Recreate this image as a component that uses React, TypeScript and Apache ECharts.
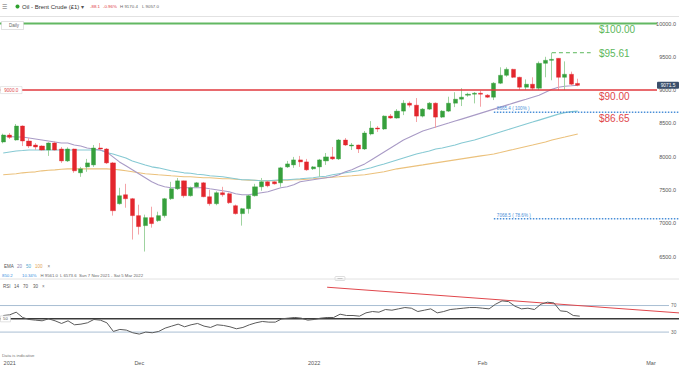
import React, { useEffect, useRef } from "react";
import * as echarts from "echarts";

const FF = "'Liberation Sans', Arial, Helvetica, sans-serif";

// trading days (IG: Sun–Fri sessions)
const dates: string[] = [
  "2021-11-07","2021-11-08","2021-11-09","2021-11-10","2021-11-11","2021-11-12","2021-11-14","2021-11-15","2021-11-16","2021-11-17",
  "2021-11-18","2021-11-19","2021-11-21","2021-11-22","2021-11-23","2021-11-24","2021-11-25","2021-11-26","2021-11-28","2021-11-29",
  "2021-11-30","2021-12-01","2021-12-02","2021-12-03","2021-12-05","2021-12-06","2021-12-07","2021-12-08","2021-12-09","2021-12-10",
  "2021-12-12","2021-12-13","2021-12-14","2021-12-15","2021-12-16","2021-12-17","2021-12-19","2021-12-20","2021-12-21","2021-12-22",
  "2021-12-23","2021-12-24","2021-12-26","2021-12-27","2021-12-28","2021-12-29","2021-12-30","2021-12-31","2022-01-02","2022-01-03",
  "2022-01-04","2022-01-05","2022-01-06","2022-01-07","2022-01-09","2022-01-10","2022-01-11","2022-01-12","2022-01-13","2022-01-14",
  "2022-01-16","2022-01-17","2022-01-18","2022-01-19","2022-01-20","2022-01-21","2022-01-23","2022-01-24","2022-01-25","2022-01-26",
  "2022-01-27","2022-01-28","2022-01-30","2022-01-31","2022-02-01","2022-02-02","2022-02-03","2022-02-04","2022-02-06","2022-02-07",
  "2022-02-08","2022-02-09","2022-02-10","2022-02-11","2022-02-13","2022-02-14","2022-02-15","2022-02-16","2022-02-17","2022-02-18",
];
const futureDates: string[] = [
  "2022-02-19","2022-02-20","2022-02-21","2022-02-22","2022-02-23","2022-02-24","2022-02-25","2022-02-26","2022-02-27","2022-02-28","2022-03-01",
];
const tickLabels: Record<string, string> = {
  "2021-11-08": "2021", "2021-12-01": "Dec", "2022-01-02": "2022", "2022-02-01": "Feb", "2022-03-01": "Mar",
};

const opens = [
  8220,8325,8250,8460,8235,8175,8160,8100,8205,8115, 7936,8115,7757,7846,7876,8130,8115,7906,7293,7428,
  7368,7114,6964,7084,7039,7114,7368,7517,7637,7413, 7547,7607,7398,7293,7458,7443,7263,7144,7218,7413,
  7547,7622,7622,7607,7846,7876,7951,7921,7817,7846, 7936,7996,7966,8250,8160,8175,8115,8340,8430,8415,
  8609,8580,8684,8803,8773,8609,8714,8803,8594,8684, 8803,8863,8923,8938,8953,8923,8893,9103,9222,9312,
  9192,9043,9088,9028,9402,9447,9477,9192,9237,9100,
];
const closes = [
  8325,8290,8460,8235,8160,8145,8100,8205,8100,7936, 8115,7787,7817,7906,8130,8115,7906,7188,7413,7368,
  7114,6949,7084,6994,7114,7368,7517,7637,7413,7532, 7607,7398,7293,7458,7428,7308,7144,7218,7413,7547,
  7622,7562,7592,7832,7891,7951,7921,7802,7846,7951, 7996,7966,8250,8175,8175,8115,8355,8430,8415,8609,
  8580,8684,8803,8773,8609,8714,8803,8594,8684,8803, 8863,8893,8938,8953,8938,8893,9103,9222,9312,9192,
  9043,9088,9028,9402,9447,9462,9192,9237,9088,9071.5,
];
const lows = [
  8200,8265,8240,8160,8130,8100,8090,8011,8090,7906, 7920,7757,7697,7772,7846,8100,7890,7114,7280,7233,
  6755,6830,6575,6934,7020,7084,7350,7500,7383,7400, 7530,7390,7263,7270,7398,7290,7130,6964,7144,7400,
  7488,7540,7580,7547,7830,7832,7846,7787,7800,7697, 7876,7950,7950,8160,8100,8055,8100,8320,8370,8400,
  8570,8570,8624,8740,8520,8590,8700,8430,8580,8670, 8744,8760,8900,8800,8750,8880,8850,9090,9200,9180,
  9000,9000,9000,9000,9192,9147,8998,9000,9070,9057,
];
const highs = [
  8345,8355,8490,8470,8280,8205,8170,8215,8230,8145, 8140,8120,7846,7966,8175,8205,8130,7920,7532,7592,
  7380,7278,7129,7248,7173,7380,7622,7680,7640,7550, 7620,7620,7503,7480,7547,7460,7280,7230,7430,7592,
  7680,7640,7630,7846,7936,7996,8011,7966,7860,7966, 8055,8145,8265,8280,8205,8180,8385,8534,8460,8620,
  8640,8714,8849,8830,8880,8730,8820,8815,8700,8900, 8968,9028,8960,8970,8990,8940,9120,9342,9342,9320,
  9200,9160,9192,9430,9500,9561,9477,9431,9277,9170.4,
];

const ema20 = [
  8310,8302,8295,8295,8280,8265,8250,8235,8220,8205, 8205,8175,8161,8131,8116,8101,8071,7996,7921,7862,
  7802,7742,7682,7622,7577,7547,7532,7532,7532,7532, 7532,7532,7517,7503,7488,7473,7443,7428,7428,7443,
  7458,7473,7503,7532,7547,7577,7622,7637,7652,7667, 7682,7697,7727,7772,7802,7847,7891,7951,8011,8071,
  8131,8190,8250,8295,8340,8385,8415,8445,8475,8504, 8534,8564,8594,8624,8654,8684,8714,8744,8774,8804,
  8834,8863,8893,8923,8968,9013,9043,9058,9065,9073,
];
const ema50 = [
  8056,8071,8086,8093,8101,8101,8101,8101,8101,8101, 8101,8101,8101,8101,8101,8101,8063,8041,8011,7981,
  7936,7906,7876,7847,7832,7810,7787,7772,7757,7750, 7735,7727,7712,7705,7697,7682,7667,7652,7652,7645,
  7637,7637,7645,7652,7652,7660,7667,7675,7682,7697, 7705,7727,7742,7757,7772,7787,7810,7832,7862,7891,
  7921,7951,7981,8011,8041,8063,8086,8116,8131,8153, 8175,8205,8228,8250,8280,8310,8340,8370,8400,8430,
  8460,8490,8519,8549,8579,8609,8639,8661,8676,8684,
];
const ema100 = [
  7727,7735,7742,7757,7765,7772,7787,7795,7802,7810, 7817,7817,7817,7817,7817,7817,7817,7810,7802,7787,
  7772,7757,7742,7735,7727,7720,7712,7705,7697,7697, 7690,7682,7682,7675,7667,7667,7660,7652,7645,7645,
  7637,7637,7637,7645,7645,7652,7652,7660,7667,7675, 7682,7690,7697,7705,7712,7720,7727,7742,7757,7772,
  7795,7817,7832,7847,7862,7876,7891,7906,7921,7936, 7951,7966,7981,7996,8011,8026,8041,8063,8086,8108,
  8131,8153,8175,8198,8220,8250,8273,8295,8318,8340,
];
const rsi14 = [
  55,56,60,52,49,48,47,50,47,43, 47,41,42,44,49,48,44,31,34,33,
  29,27,30,29,31,36,39,42,38,41, 43,39,37,41,40,38,35,37,41,44,
  46,45,45,50,51,52,51,48,49,51, 52,52,57,55,55,54,59,61,60,64,
  63,65,67,66,61,63,65,59,61,64, 65,66,67,67,66,65,72,77,76,69,
  65,66,64,72,75,74,62,61,55,54,
];

// levels
const levelTop = 10000;
const levelRecentHigh = 9561;
const levelSupport = 9000;
const fib100 = 8665.4;
const fib786 = 7068.5;
const lastPrice = 9071.5;
const recentHighIndex = 85;
const fibStartIndex = 76;
// RSI trend line anchors: [index, rsi]
const rsiTrendA: [number, number] = [50, 97.6];
const rsiTrendB: [number, number] = [100, 62];

const GREEN = "#36a03c";
const RED = "#e3262d";
const GREEN_W = "#9fd3a0";
const RED_W = "#f4a3a7";

const cats = [...dates, ...futureDates];

function buildGraphics(chart: any) {
  const P = (g: number, x: number, y: number) => chart.convertToPixel({ gridIndex: g }, [x, y]) as number[];
  const els: any[] = [];
  const txt = (x: number, y: number, text: string, fill: string, size: number, extra: any = {}, z = 20) => ({
    type: "text", x, y, silent: true, z,
    style: { text, fill, fontSize: size, fontFamily: FF, verticalAlign: "middle", align: "left", ...extra },
  });
  const line = (x1: number, y1: number, x2: number, y2: number, stroke: string, lw: number, dash?: number[], z = 5) => ({
    type: "line", silent: true, z,
    shape: { x1, y1, x2, y2 },
    style: { stroke, lineWidth: lw, lineDash: dash || null },
  });

  // chrome
  els.push(line(0, 16.5, 679, 16.5, "#e2e2e2", 1));
  els.push(line(0, 279, 679, 279, "#e2e2e2", 1));
  els.push(txt(1.5, 6.5, "☰", "#666", 5.5));
  els.push({ type: "circle", silent: true, shape: { cx: 17.5, cy: 6.5, r: 2 }, style: { fill: "#2ca02c" } });
  els.push(txt(22, 6.5, "Oil - Brent Crude (£1)", "#333", 6));
  els.push(txt(81, 6.5, "▾", "#555", 5.5));
  els.push(txt(90, 6.5, "-88.1", "#e0393e", 4.4));
  els.push(txt(103, 6.5, "-0.96%", "#e0393e", 4.4));
  els.push(txt(120, 6.5, "H 9170.4", "#666", 4.4));
  els.push(txt(142, 6.5, "L 9057.0", "#666", 4.4));

  // price levels
  const yTop = P(0, 0, levelTop)[1];
  els.push(line(0, yTop, 657, yTop, "#62b862", 2));
  els.push({ type: "rect", silent: true, z: 21, shape: { x: 1.5, y: yTop - 2, width: 22, height: 8 }, style: { fill: "#fff", stroke: "#cfcfcf", lineWidth: 0.6 } });
  els.push(txt(9, yTop + 2, "Daily", "#666", 4.5, {}, 22));
  els.push(txt(599, yTop + 6, "$100.00", "#5cb85c", 10));

  const yHigh = P(0, 0, levelRecentHigh)[1];
  const xHigh0 = P(0, recentHighIndex, levelRecentHigh)[0];
  const xHigh1 = P(0, recentHighIndex + 6, levelRecentHigh)[0];
  els.push(line(xHigh0, yHigh, xHigh1, yHigh, "#5cb85c", 1, [4, 3]));
  els.push(txt(599, yHigh + 0.5, "$95.61", "#5cb85c", 10));

  const ySup = P(0, 0, levelSupport)[1];
  els.push(line(0, ySup, 657, ySup, "#e0393e", 1.5));
  els.push(txt(599, ySup + 6.5, "$90.00", "#e0474c", 10));
  els.push({ type: "rect", silent: true, z: 21, shape: { x: 0.5, y: ySup - 3.5, width: 21.5, height: 7 }, style: { fill: "#fff", stroke: "#d8d8d8", lineWidth: 0.6 } });
  els.push(txt(11.25, ySup, "9000.0", "#e0474c", 4.6, { align: "center" }, 22));

  const yF1 = P(0, 0, fib100)[1];
  const xF = P(0, fibStartIndex, fib100)[0];
  els.push(line(xF, yF1, 679, yF1, "#4a8fd8", 1.5, [1.5, 1.5]));
  els.push(txt(xF + 3, yF1 - 3.5, "8665.4 ( 100% )", "#4a8fd8", 4.6));
  els.push(txt(599, yF1 + 6.5, "$86.65", "#e0474c", 10));

  const yF2 = P(0, 0, fib786)[1];
  els.push(line(xF, yF2, 679, yF2, "#4a8fd8", 1.5, [1.5, 1.5]));
  els.push(txt(xF + 3, yF2 - 3.5, "7068.5 ( 78.6% )", "#4a8fd8", 4.6));

  const yLast = P(0, 0, lastPrice)[1];
  els.push({ type: "rect", silent: true, z: 25, shape: { x: 657, y: yLast - 3.5, width: 22, height: 7, r: 1 }, style: { fill: "#3b4f6b" } });
  els.push(txt(668, yLast, "9071.5", "#fff", 4.8, { align: "center" }, 26));

  // legend rows
  els.push(txt(4, 266.5, "EMA", "#555", 4.5));
  els.push(txt(17, 266.5, "20", "#8d84b0", 4.5));
  els.push(txt(26, 266.5, "50", "#4fa8cf", 4.5));
  els.push(txt(35, 266.5, "100", "#e2a653", 4.5));
  els.push(txt(47.5, 266.5, "×", "#777", 4.5));
  els.push(txt(2, 275, "850.2", "#3a8ee0", 4.3));
  els.push(txt(22, 275, "10.34%", "#3a8ee0", 4.3));
  els.push(txt(40.5, 275, "H 9561.0", "#666", 4.3));
  els.push(txt(60, 275, "L 6573.6", "#666", 4.3));
  els.push(txt(79, 275, "Sun 7 Nov 2021 - Sat 5 Mar 2022", "#666", 4.3));
  els.push({ type: "rect", silent: true, shape: { x: 335, y: 276.5, width: 10, height: 4, r: 1 }, style: { fill: "#fff", stroke: "#c8c8c8", lineWidth: 0.6 } });
  els.push(line(337.5, 278.5, 342.5, 278.5, "#aaa", 0.6));

  // RSI pane
  els.push(txt(3, 286, "RSI", "#555", 4.5));
  els.push(txt(14, 286, "14", "#555", 4.5));
  els.push(txt(23, 286, "70", "#555", 4.5));
  els.push(txt(33, 286, "30", "#555", 4.5));
  els.push(txt(42, 286, "×", "#777", 4.5));
  const y70 = P(1, 0, 70)[1];
  const y50 = P(1, 0, 50)[1];
  const y30 = P(1, 0, 30)[1];
  els.push(line(0, y70, 669, y70, "#a9bed3", 1, undefined, 1));
  els.push(line(0, y30, 669, y30, "#a9bed3", 1, undefined, 1));
  els.push(line(0, y50, 679, y50, "#3a3a3a", 1.5, undefined, 1));
  els.push(txt(671, y70, "70", "#666", 4.8));
  els.push(txt(671, y30, "30", "#666", 4.8));
  els.push({ type: "rect", silent: true, z: 21, shape: { x: 0.5, y: y50 - 3, width: 10, height: 6 }, style: { fill: "#fff", stroke: "#cfcfcf", lineWidth: 0.6 } });
  els.push(txt(5.5, y50, "50", "#555", 4.3, { align: "center" }, 22));

  const a = P(1, rsiTrendA[0], rsiTrendA[1]);
  const b = P(1, rsiTrendB[0], rsiTrendB[1]);
  const slope = (b[1] - a[1]) / (b[0] - a[0]);
  let x0 = a[0], y0 = a[1];
  if (y0 < 280) { x0 = a[0] + (280 - a[1]) / slope; y0 = 280; }
  const yEnd = b[1] + slope * (679 - b[0]);
  els.push(line(x0, y0, 679, yEnd, "#e0474c", 1, undefined, 6));

  els.push(txt(2, 355, "Data is indicative", "#777", 4.3));
  return els;
}

export default function App() {
  const ref = useRef<HTMLDivElement>(null);
  useEffect(() => {
    const el = ref.current!;
    const chart = echarts.init(el, undefined, { renderer: "svg" });
    const wickData = dates.map((_, i) => [opens[i], closes[i], lows[i], highs[i]]);
    const bodyData = dates.map((_, i) => [opens[i], closes[i], Math.min(opens[i], closes[i]), Math.max(opens[i], closes[i])]);
    const gridW = 656.5;
    const option: any = {
      animation: false,
      backgroundColor: "#ffffff",
      textStyle: { fontFamily: FF },
      grid: [
        { left: -2.25, width: gridW, top: 23.5, height: 266.3 },
        { left: -2.25, width: gridW, top: 279, height: 73.2 },
      ],
      xAxis: [
        { type: "category", gridIndex: 0, data: cats, boundaryGap: true, axisLine: { show: false }, axisTick: { show: false }, axisLabel: { show: false }, splitLine: { show: false } },
        {
          type: "category", gridIndex: 1, data: cats, boundaryGap: true,
          axisLine: { show: false }, axisTick: { show: false }, splitLine: { show: false },
          axisLabel: { interval: 0, formatter: (v: string) => tickLabels[v] ?? "", fontSize: 5.5, color: "#555", margin: 8, fontFamily: FF },
        },
      ],
      yAxis: [
        {
          type: "value", gridIndex: 0, position: "right", min: 6000, max: 10000, interval: 500,
          axisLine: { show: false }, axisTick: { show: false }, splitLine: { show: false },
          axisLabel: { showMinLabel: false, formatter: (v: number) => v.toFixed(1), fontSize: 5.5, color: "#555", align: "right", margin: 24, fontFamily: FF },
        },
        {
          type: "value", gridIndex: 1, position: "right", min: 0, max: 110, interval: 10,
          axisLine: { show: false }, axisTick: { show: false }, splitLine: { show: false }, axisLabel: { show: false },
        },
      ],
      series: [
        {
          type: "candlestick", name: "wicks", xAxisIndex: 0, yAxisIndex: 0, data: wickData, barWidth: 0.8, z: 3,
          itemStyle: { color: GREEN_W, color0: RED_W, borderColor: GREEN_W, borderColor0: RED_W, borderWidth: 1 },
        },
        {
          type: "candlestick", name: "bodies", xAxisIndex: 0, yAxisIndex: 0, data: bodyData, barWidth: 4.6, z: 4,
          itemStyle: { color: GREEN, color0: RED, borderColor: GREEN, borderColor0: RED, borderWidth: 0.4 },
        },
        { type: "line", name: "EMA 100", data: ema100, symbol: "none", lineStyle: { color: "#ebc17c", width: 1.1 }, z: 2 },
        { type: "line", name: "EMA 50", data: ema50, symbol: "none", lineStyle: { color: "#86c9d3", width: 1.1 }, z: 2 },
        { type: "line", name: "EMA 20", data: ema20, symbol: "none", lineStyle: { color: "#a99bc6", width: 1.1 }, z: 2 },
        {
          type: "line", name: "RSI 14", xAxisIndex: 1, yAxisIndex: 1, data: rsi14, symbol: "none",
          lineStyle: { color: "#5a5a5a", width: 1 }, z: 7,
        },
      ],
    };
    chart.setOption(option);
    chart.setOption({ graphic: buildGraphics(chart) });
    return () => chart.dispose();
  }, []);
  return <div ref={ref} style={{ position: "fixed", left: 0, top: 0, width: 679, height: 366 }} />;
}
